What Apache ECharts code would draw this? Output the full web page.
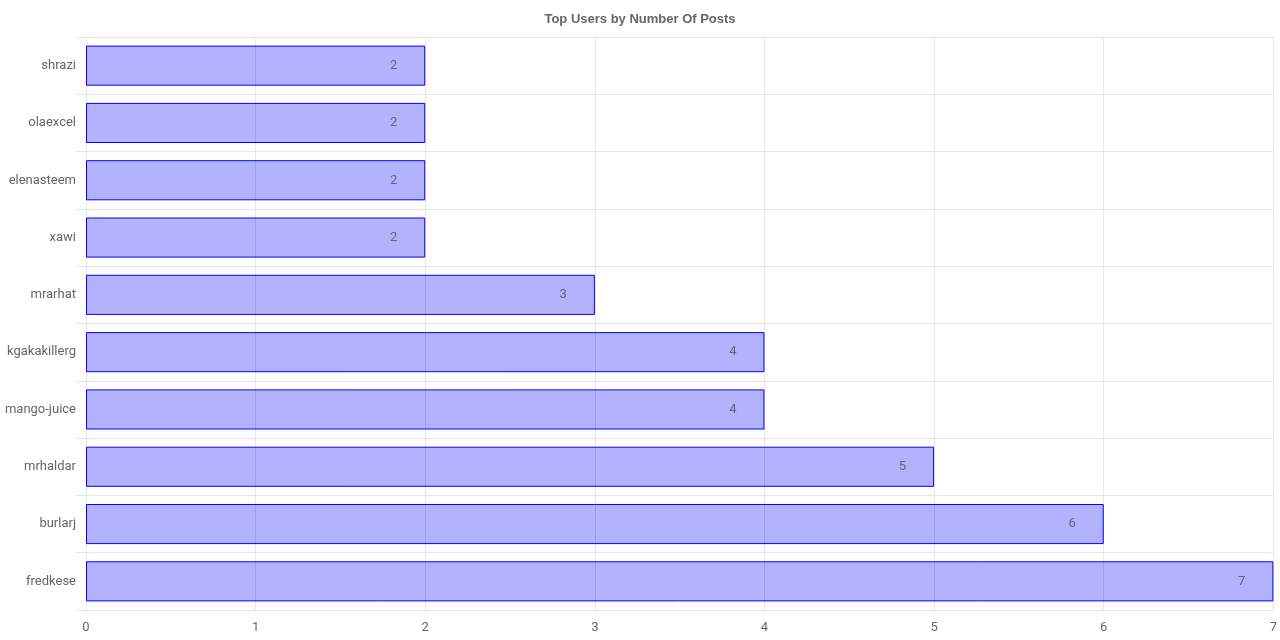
<!DOCTYPE html>
<html>
<head>
<meta charset="utf-8">
<script src="https://cdn.jsdelivr.net/npm/echarts@6/dist/echarts.min.js"></script>
<style>html,body{margin:0;padding:0;background:#fff}#c{width:1280px;height:640px}</style>
</head>
<body>
<div id="c"></div>
<script>
const users = ['shrazi','olaexcel','elenasteem','xawi','mrarhat','kgakakillerg','mango-juice','mrhaldar','burlarj','fredkese'];
const posts = [2,2,2,2,3,4,4,5,6,7];
const titleText = 'Top Users by Number Of Posts';

const chart = echarts.init(document.getElementById('c'));
chart.setOption({
  animation: false,
  title: {
    text: titleText, left: 'center', top: 8,
    textStyle: {fontFamily: 'Liberation Sans', fontSize: 13, fontWeight: 'bold', color: '#666'}
  },
  grid: {left: 86, right: 6, top: 37, bottom: 30, containLabel: false},
  xAxis: {
    type: 'value', min: 0, max: 7, interval: 1,
    axisLine: {show: false}, axisTick: {show: false},
    axisLabel: {color: '#666', fontFamily: 'Roboto', fontSize: 13, margin: 11},
    splitLine: {show: true, lineStyle: {color: '#e6e6e6', width: 1}}
  },
  yAxis: {
    type: 'category', data: users, inverse: true,
    axisLine: {show: false},
    axisTick: {show: true, length: 10, lineStyle: {color: '#e6e6e6'}},
    axisLabel: {color: '#666', fontFamily: 'Roboto', fontSize: 13, margin: 10},
    splitLine: {show: true, lineStyle: {color: '#e6e6e6', width: 1}}
  },
  series: [{
    type: 'bar', data: posts, barCategoryGap: '30%',
    itemStyle: {color: 'rgba(0,0,255,0.3)', borderColor: '#0000ff', borderWidth: 1},
    label: {show: true, position: 'insideRight', distance: 28, color: '#666', fontFamily: 'Roboto', fontSize: 13}
  }]
});
</script>
</body>
</html>
